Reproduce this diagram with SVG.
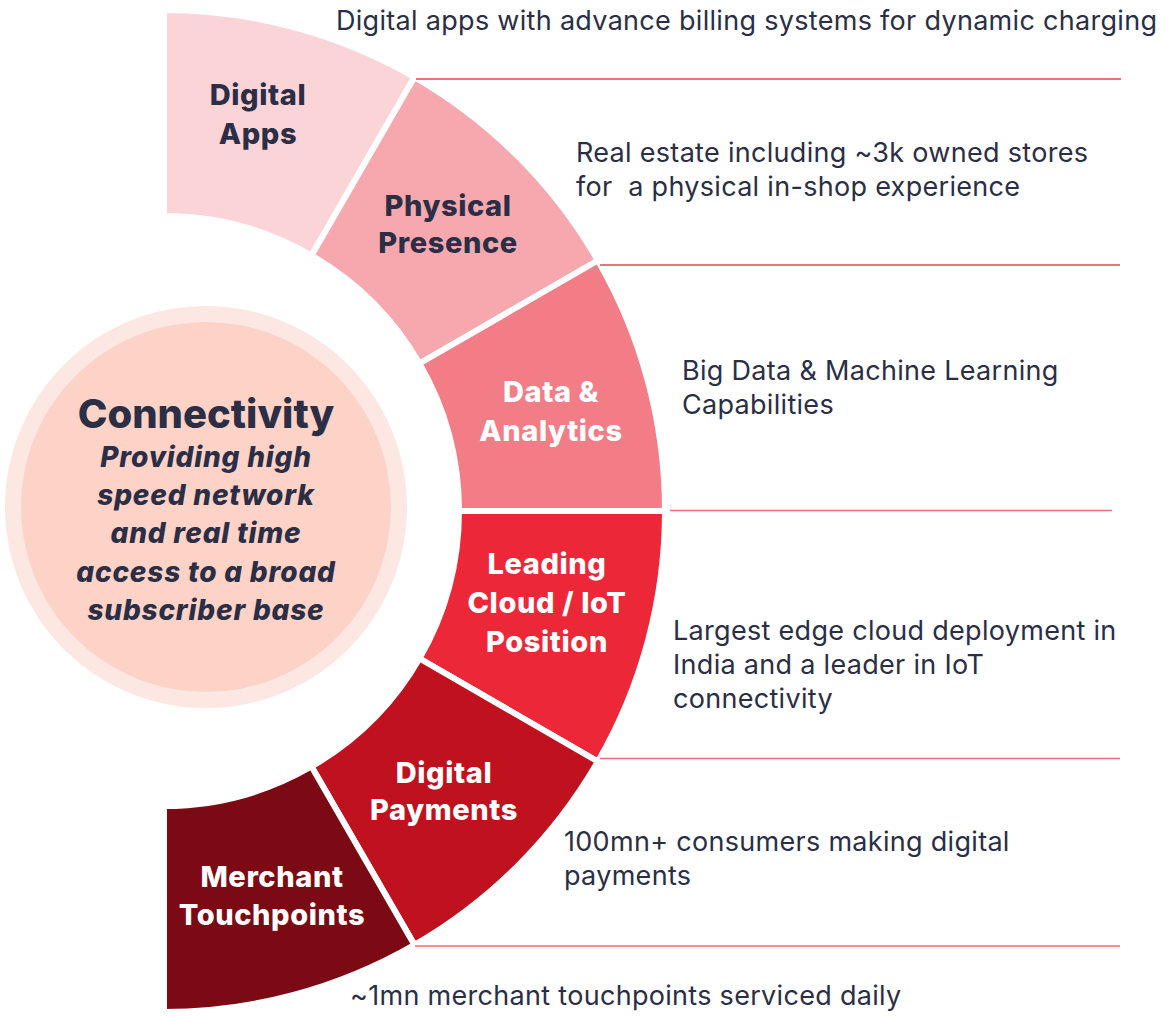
<svg xmlns="http://www.w3.org/2000/svg" width="1166" height="1017" viewBox="0 0 1166 1017">
  <style>
    .seg { stroke: #ffffff; stroke-width: 6; stroke-linejoin: miter; }
    .lbl { font-family: Inter, "Noto Sans", "Liberation Sans", sans-serif; font-weight: 800; font-size: 29px; letter-spacing: 0.6px; text-anchor: middle; }
    .dark { fill: #2B2E45; }
    .light { fill: #ffffff; }
    .desc { font-family: Inter, "Noto Sans", "Liberation Sans", sans-serif; font-weight: 400; font-size: 27px; letter-spacing: 0.3px; fill: #2B2E45; }
    .title { font-family: Inter, "Noto Sans", "Liberation Sans", sans-serif; font-weight: 800; font-size: 40px; fill: #2B2E45; text-anchor: middle; }
    .sub { font-family: Inter, "Noto Sans", "Liberation Sans", sans-serif; font-weight: 800; font-style: italic; font-size: 28px; letter-spacing: 0.8px; fill: #2B2E45; text-anchor: middle; }
    .rule { stroke-width: 1.6; fill: none; }
  </style>
  <rect width="1166" height="1017" fill="#ffffff"/>

  <g id="connectivity">
    <circle cx="206" cy="507" r="201" fill="#FDE7E3"/>
    <circle cx="206" cy="507" r="185" fill="#FDD3C8"/>
    <text class="title" x="206" y="428">Connectivity</text>
    <text class="sub" x="206" y="467">Providing high</text>
    <text class="sub" x="206" y="505">speed network</text>
    <text class="sub" x="206" y="543">and real time</text>
    <text class="sub" x="206" y="582">access to a broad</text>
    <text class="sub" x="206" y="620">subscriber base</text>
  </g>

  <g id="digital-apps">
    <path class="seg" fill="#FBD4D8" d="M164,10 A501,501 0 0 1 414.5,77.1 L311.5,255.5 A295,295 0 0 0 164,216 Z"/>
    <text class="lbl dark" x="258" y="105">Digital</text>
    <text class="lbl dark" x="258" y="144">Apps</text>
  </g>
  <g id="physical-presence">
    <path class="seg" fill="#F7A8AF" d="M414.5,77.1 A501,501 0 0 1 597.9,260.5 L419.5,363.5 A295,295 0 0 0 311.5,255.5 Z"/>
    <text class="lbl dark" x="448" y="216">Physical</text>
    <text class="lbl dark" x="448" y="253">Presence</text>
  </g>
  <g id="data-analytics">
    <path class="seg" fill="#F37D87" d="M597.9,260.5 A501,501 0 0 1 665,511 L459,511 A295,295 0 0 0 419.5,363.5 Z"/>
    <text class="lbl light" x="551" y="402">Data &amp;</text>
    <text class="lbl light" x="551" y="441">Analytics</text>
  </g>
  <g id="cloud-iot">
    <path class="seg" fill="#EC2738" d="M665,511 A501,501 0 0 1 597.9,761.5 L419.5,658.5 A295,295 0 0 0 459,511 Z"/>
    <text class="lbl light" x="547" y="574">Leading</text>
    <text class="lbl light" x="547" y="613">Cloud / IoT</text>
    <text class="lbl light" x="547" y="652">Position</text>
  </g>
  <g id="digital-payments">
    <path class="seg" fill="#C0111F" d="M597.9,761.5 A501,501 0 0 1 414.5,944.9 L311.5,766.5 A295,295 0 0 0 419.5,658.5 Z"/>
    <text class="lbl light" x="444" y="783">Digital</text>
    <text class="lbl light" x="444" y="820">Payments</text>
  </g>
  <g id="merchant-touchpoints">
    <path class="seg" fill="#7C0A14" d="M414.5,944.9 A501,501 0 0 1 164,1012 L164,806 A295,295 0 0 0 311.5,766.5 Z"/>
    <text class="lbl light" x="272" y="887">Merchant</text>
    <text class="lbl light" x="272" y="925">Touchpoints</text>
  </g>

  <g id="connectors">
    <line class="rule" x1="416" y1="79" x2="1121" y2="79" stroke="#E8414F"/>
    <line class="rule" x1="600" y1="265" x2="1120" y2="265" stroke="#E8414F"/>
    <line class="rule" x1="670" y1="510.5" x2="1112" y2="510.5" stroke="#F06B75"/>
    <line class="rule" x1="600" y1="758.5" x2="1120" y2="758.5" stroke="#F06B75"/>
    <line class="rule" x1="415" y1="946" x2="1120" y2="946" stroke="#F06B75"/>
  </g>

  <g id="descriptions">
    <text class="desc" x="336" y="30">Digital apps with advance billing systems for dynamic charging</text>
    <text class="desc" x="576" y="162">Real estate including ~3k owned stores</text>
    <text class="desc" x="576" y="196" xml:space="preserve">for  a physical in-shop experience</text>
    <text class="desc" x="682" y="380">Big Data &amp; Machine Learning</text>
    <text class="desc" x="682" y="414">Capabilities</text>
    <text class="desc" x="673" y="640">Largest edge cloud deployment in</text>
    <text class="desc" x="673" y="674">India and a leader in IoT</text>
    <text class="desc" x="673" y="708">connectivity</text>
    <text class="desc" x="564" y="851">100mn+ consumers making digital</text>
    <text class="desc" x="564" y="885">payments</text>
    <text class="desc" x="350" y="1005">~1mn merchant touchpoints serviced daily</text>
  </g>
</svg>
